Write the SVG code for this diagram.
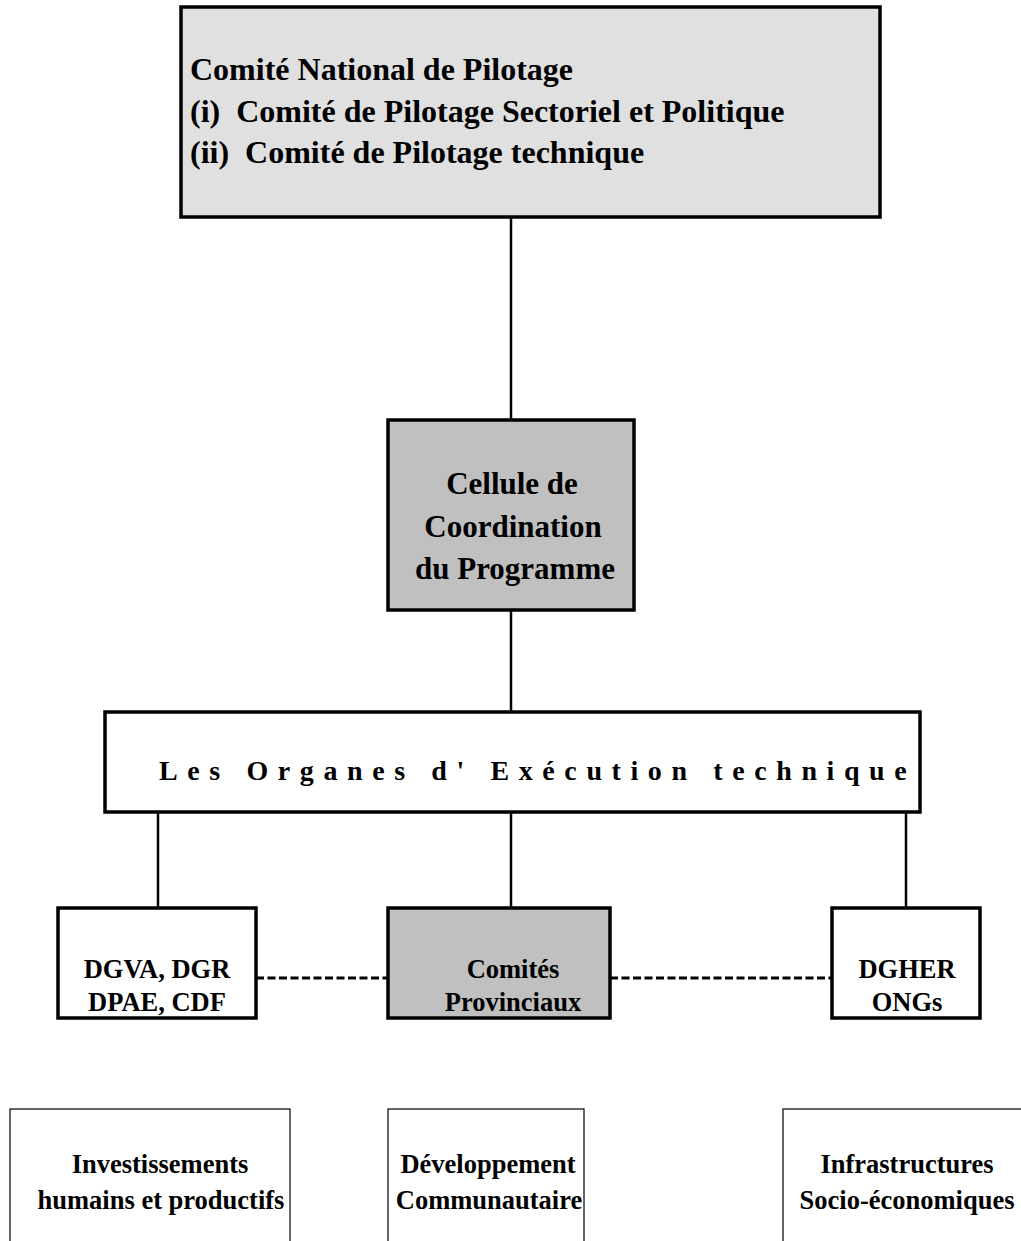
<svg xmlns="http://www.w3.org/2000/svg" width="1021" height="1241" viewBox="0 0 1021 1241">
<style>
text{font-family:"Liberation Serif","Times New Roman",serif;font-weight:bold;fill:#000}
.c{text-anchor:middle}
.pre{white-space:pre}
.t1{font-size:32px}
.t2{font-size:31px}
.t3{font-size:26.5px}
.thick{stroke:#000;stroke-width:3.5}
.thin{stroke:#000;stroke-width:1.2;fill:#fff}
.ln{stroke:#000;stroke-width:2.5;fill:none}
.dash{stroke:#000;stroke-width:3;fill:none;stroke-dasharray:8 3.5}
</style>
<rect width="1021" height="1241" fill="#fff"/>
<g id="connectors">
<line class="ln" x1="511" y1="217" x2="511" y2="420"/>
<line class="ln" x1="511" y1="610" x2="511" y2="712"/>
<line class="ln" x1="158" y1="812" x2="158" y2="908"/>
<line class="ln" x1="511" y1="812" x2="511" y2="908"/>
<line class="ln" x1="906" y1="812" x2="906" y2="908"/>
<line class="dash" x1="256" y1="978" x2="388" y2="978"/>
<line class="dash" x1="610" y1="978" x2="832" y2="978"/>
</g>
<g id="n-comite">
<rect class="thick" x="181" y="7" width="699" height="210" fill="#e0e0e0"/>
<text class="t1 pre" x="190" y="80" xml:space="preserve">Comité National de Pilotage</text>
<text class="t1 pre" x="190" y="121.5" xml:space="preserve">(i)  Comité de Pilotage Sectoriel et Politique</text>
<text class="t1 pre" x="190" y="163" xml:space="preserve">(ii)  Comité de Pilotage technique</text>
</g>
<g id="n-cellule">
<rect class="thick" x="388" y="420" width="246" height="190" fill="#c0c0c0" stroke-width="4"/>
<text class="c t2" x="512" y="494">Cellule de</text>
<text class="c t2" x="513" y="537">Coordination</text>
<text class="c t2" x="515" y="579">du Programme</text>
</g>
<g id="n-organes">
<rect class="thick" x="105" y="712" width="815" height="100" fill="#fff"/>
<text x="159" y="780" font-size="28" letter-spacing="9.6">Les Organes d' Exécution technique</text>
</g>
<g id="n-dgva">
<rect class="thick" x="58" y="908" width="198" height="110" fill="#fff"/>
<text class="c t3" x="157" y="978">DGVA, DGR</text>
<text class="c t3" x="157" y="1011">DPAE, CDF</text>
</g>
<g id="n-comites">
<rect class="thick" x="388" y="908" width="222" height="110" fill="#c0c0c0"/>
<text class="c t3" x="513" y="978">Comités</text>
<text class="c t3" x="513" y="1011">Provinciaux</text>
</g>
<g id="n-dgher">
<rect class="thick" x="832" y="908" width="148" height="110" fill="#fff"/>
<text class="c t3" x="907" y="978">DGHER</text>
<text class="c t3" x="907" y="1011">ONGs</text>
</g>
<g id="n-invest">
<rect class="thin" x="10" y="1109" width="280" height="140"/>
<text class="c t3" x="160" y="1173">Investissements</text>
<text class="c t3" x="161" y="1209">humains et productifs</text>
</g>
<g id="n-dev">
<rect class="thin" x="388" y="1109" width="196" height="140"/>
<text class="c t3" x="488" y="1173">Développement</text>
<text class="c t3" x="489" y="1209">Communautaire</text>
</g>
<g id="n-infra">
<rect class="thin" x="783" y="1109" width="250" height="140"/>
<text class="c t3" x="907" y="1173">Infrastructures</text>
<text class="c t3" x="907" y="1209">Socio-économiques</text>
</g>
</svg>
